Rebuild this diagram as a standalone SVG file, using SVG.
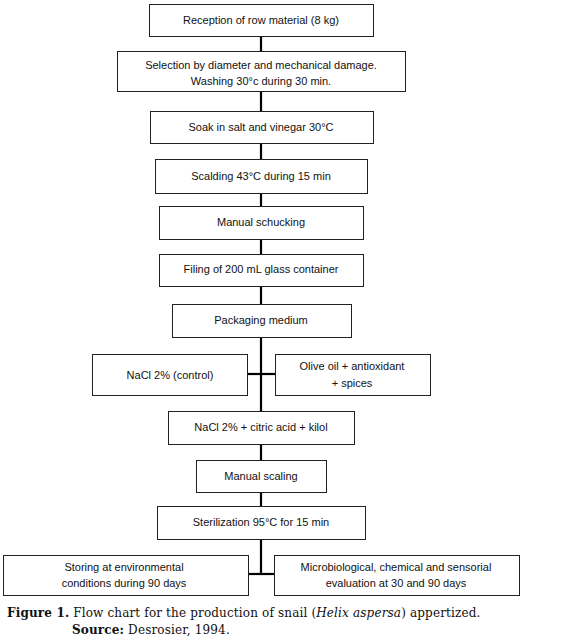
<svg xmlns="http://www.w3.org/2000/svg" width="580" height="641" viewBox="0 0 580 641">
<style>
.box{fill:#fff;stroke:#222;stroke-width:1}
.t{font-family:"Liberation Sans",Arial,sans-serif;font-size:11px;fill:#111;text-anchor:middle}
.ln{stroke:#000;stroke-width:2.2;fill:none}
.cap{font-family:"DejaVu Serif","Liberation Serif",serif;font-size:12px;fill:#111;letter-spacing:0.15px}
</style>
<rect width="580" height="641" fill="#fff"/>
<g id="connectors">
<line class="ln" x1="261" y1="36" x2="261" y2="51"/>
<line class="ln" x1="261" y1="91" x2="261" y2="111"/>
<line class="ln" x1="261" y1="143" x2="261" y2="159"/>
<line class="ln" x1="261" y1="193" x2="261" y2="206"/>
<line class="ln" x1="261" y1="239" x2="261" y2="254"/>
<line class="ln" x1="261" y1="286" x2="261" y2="304"/>
<line class="ln" x1="261" y1="337" x2="261" y2="411"/>
<line class="ln" x1="247" y1="374" x2="275" y2="374"/>
<line class="ln" x1="261" y1="444" x2="261" y2="460"/>
<line class="ln" x1="261" y1="492" x2="261" y2="506"/>
<line class="ln" x1="261" y1="539" x2="261" y2="574"/>
<line class="ln" x1="248" y1="574" x2="274" y2="574"/>
</g>
<g id="n1"><rect class="box" x="149.5" y="4.5" width="224" height="32"/><text class="t" x="261" y="24">Reception of row material (8 kg)</text></g>
<g id="n2"><rect class="box" x="117.5" y="51.5" width="288" height="40"/><text class="t" x="261" y="69">Selection by diameter and mechanical damage.</text><text class="t" x="261" y="85">Washing 30°c during 30 min.</text></g>
<g id="n3"><rect class="box" x="150.5" y="111.5" width="223" height="32"/><text class="t" x="261" y="131">Soak in salt and vinegar 30°C</text></g>
<g id="n4"><rect class="box" x="155.5" y="159.5" width="212" height="34"/><text class="t" x="261" y="180">Scalding 43°C during 15 min</text></g>
<g id="n5"><rect class="box" x="159.5" y="206.5" width="204" height="33"/><text class="t" x="261" y="226">Manual schucking</text></g>
<g id="n6"><rect class="box" x="159.5" y="254.5" width="204" height="32"/><text class="t" x="261" y="273">Filing of 200 mL glass container</text></g>
<g id="n7"><rect class="box" x="172.5" y="304.5" width="179" height="33"/><text class="t" x="261" y="324">Packaging medium</text></g>
<g id="n8"><rect class="box" x="92.5" y="354.5" width="155" height="41"/><text class="t" x="170" y="379">NaCl 2% (control)</text></g>
<g id="n9"><rect class="box" x="275.5" y="354.5" width="155" height="41"/><text class="t" x="352" y="370">Olive oil + antioxidant</text><text class="t" x="352" y="387">+ spices</text></g>
<g id="n10"><rect class="box" x="168.5" y="411.5" width="186" height="33"/><text class="t" x="261" y="431">NaCl 2% + citric acid + kilol</text></g>
<g id="n11"><rect class="box" x="196.5" y="460.5" width="130" height="32"/><text class="t" x="261" y="480">Manual scaling</text></g>
<g id="n12"><rect class="box" x="157.5" y="506.5" width="208" height="33"/><text class="t" x="261" y="526">Sterilization 95°C for 15 min</text></g>
<g id="n13"><rect class="box" x="3.5" y="555.5" width="245" height="40"/><text class="t" x="124" y="571">Storing at environmental</text><text class="t" x="124" y="587">conditions during 90 days</text></g>
<g id="n14"><rect class="box" x="274.5" y="555.5" width="245" height="40"/><text class="t" x="396" y="571">Microbiological, chemical and sensorial</text><text class="t" x="396" y="587">evaluation at 30 and 90 days</text></g>
<g id="caption">
<text class="cap" x="7" y="617"><tspan font-weight="bold">Figure 1.</tspan> Flow chart for the production of snail (<tspan font-style="italic">Helix aspersa</tspan>) appertized.</text>
<text class="cap" x="72" y="634"><tspan font-weight="bold">Source:</tspan> Desrosier, 1994.</text>
</g>
</svg>
